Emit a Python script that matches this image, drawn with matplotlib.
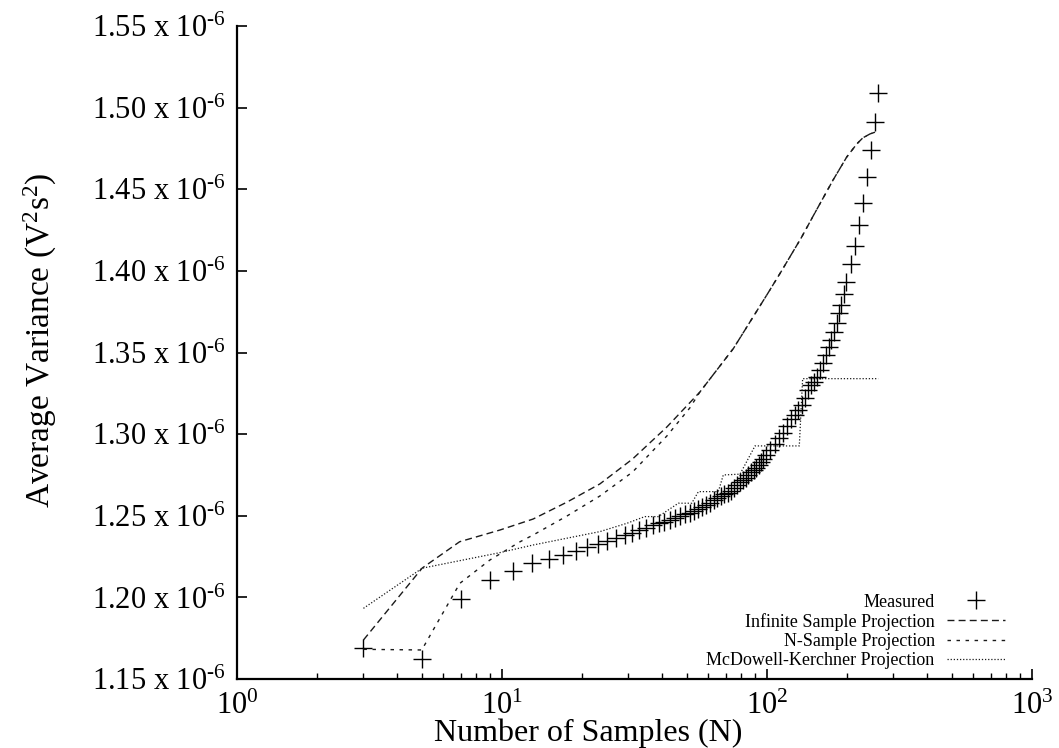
import matplotlib
matplotlib.use("Agg")
import matplotlib.pyplot as plt
from matplotlib.ticker import FixedLocator, NullFormatter, LogLocator

plt.rcParams['font.family'] = ['Liberation Serif', 'DejaVu Serif']
plt.rcParams['mathtext.fontset'] = 'custom'
plt.rcParams['mathtext.rm'] = 'Liberation Serif'
plt.rcParams['mathtext.it'] = 'Liberation Serif:italic'
plt.rcParams['mathtext.default'] = 'regular'

# ---- data (variance values in units of 1e-6 V^2 s^2) ----
measured_n = [3, 5, 7, 9, 11, 13, 15, 17, 19, 21, 23, 25, 27, 29, 31, 33, 35, 37, 39,
              41, 43, 45, 47, 49, 51, 53, 55, 57, 59, 61, 63, 65, 67, 69, 71, 73, 75,
              77, 79, 81, 83, 85, 87, 89, 91, 93, 95, 97, 99,
              103, 107, 111, 115, 119, 123, 127, 131, 135, 139, 143, 147, 151, 155,
              159, 163, 167, 171, 175, 179, 183, 187, 191, 195, 199,
              207, 215, 223, 231, 239, 247, 255, 263]
measured_v = [1.1688, 1.1623, 1.1990, 1.2107, 1.2164, 1.2208, 1.2234, 1.2262, 1.2287,
              1.2307, 1.2328, 1.2346, 1.2362, 1.2381, 1.2397, 1.2413, 1.2428, 1.2442,
              1.2454, 1.2464, 1.2477, 1.2488, 1.2498, 1.2509, 1.2519, 1.2529, 1.2540,
              1.2556, 1.2568, 1.2580, 1.2595, 1.2610, 1.2621, 1.2631, 1.2641, 1.2653,
              1.2672, 1.2690, 1.2708, 1.2720, 1.2733, 1.2750, 1.2767, 1.2780, 1.2792,
              1.2810, 1.2830, 1.2848, 1.2870,
              1.2905, 1.2942, 1.2975, 1.3010, 1.3050, 1.3095, 1.3120, 1.3145, 1.3180,
              1.3222, 1.3268, 1.3300, 1.3321, 1.3352, 1.3393, 1.3438, 1.3485, 1.3536,
              1.3577, 1.3628, 1.3679, 1.3740, 1.3790, 1.3860, 1.3934,
              1.4043, 1.4155, 1.4282, 1.4418, 1.4574, 1.4741, 1.4915, 1.5092]

infinite_n = [3, 5, 6.92, 9.83, 13.1, 17.6, 23.4, 31.1, 41.9, 55.8, 74.7, 100.4, 112.9,
              134.7, 149.2, 177.6, 200, 218.3, 230, 244.7, 257.9]
infinite_v = [1.1739, 1.2180, 1.2341, 1.2413, 1.2480, 1.2584, 1.2695, 1.2848, 1.3044,
              1.3258, 1.3525, 1.3859, 1.3994, 1.4203, 1.4335, 1.4557, 1.4698, 1.4778,
              1.4815, 1.4839, 1.4852]

nsample_n = [3, 4.98, 6.93, 9.0, 11.7, 13.1, 17.6, 23.4, 31.1, 41.9, 51.1, 55.8, 74.7,
             100.4, 112.9, 134.7, 149.2, 177.6, 200, 218.3, 230, 244.7, 257.9]
nsample_v = [1.1682, 1.1678, 1.2086, 1.2229, 1.2341, 1.2382, 1.2499, 1.2621, 1.2768,
             1.2989, 1.3160, 1.3258, 1.3525, 1.3859, 1.3994, 1.4203, 1.4335, 1.4557,
             1.4698, 1.4778, 1.4815, 1.4839, 1.4852]

mk_n = [3, 5, 9.8, 13.1, 17.5, 23.4, 29.6, 34.6, 38.9, 46.3, 52.0, 55.1, 65.5, 68.4,
        79.1, 90.1, 132.4, 136.3, 263]
mk_v = [1.1933, 1.2179, 1.2274, 1.2321, 1.2362, 1.2403, 1.2454, 1.2495, 1.2495,
        1.2577, 1.2577, 1.2648, 1.2648, 1.2750, 1.2755, 1.2928, 1.2928, 1.3340, 1.3340]

y_ticks = [1.15, 1.20, 1.25, 1.30, 1.35, 1.40, 1.45, 1.50, 1.55]
y_ticklabels = ['%.2f x 10$^{\u20106}$' % t for t in y_ticks]
x_ticks = [1, 10, 100, 1000]
x_ticklabels = ['10$^{0}$', '10$^{1}$', '10$^{2}$', '10$^{3}$']

# ---- figure ----
fig = plt.figure(figsize=(10.59, 7.48), dpi=100)
ax = fig.add_axes([0.2238, 0.0922, 0.7507, 0.873])

lc = '#1a1a1a'
ax.plot(measured_n, measured_v, linestyle='none', marker='+', markersize=13,
        markeredgewidth=1.0, color='black', label='Measured')
ax.plot(infinite_n, infinite_v, linestyle=(0, (5, 3)), linewidth=1.0, color=lc,
        label='Infinite Sample Projection')
ax.plot(nsample_n, nsample_v, linestyle=(0, (2.5, 4)), linewidth=1.0, color=lc,
        label='N-Sample Projection')
ax.plot(mk_n, mk_v, linestyle=(0, (1, 1.5)), linewidth=0.9, color=lc,
        label='McDowell-Kerchner Projection')

ax.set_xscale('log')
ax.set_xlim(1, 1000)
ax.set_ylim(1.15, 1.55)

ax.yaxis.set_major_locator(FixedLocator(y_ticks))
ax.set_yticklabels(y_ticklabels)
ax.xaxis.set_major_locator(FixedLocator(x_ticks))
ax.set_xticklabels(x_ticklabels)
ax.xaxis.set_minor_locator(LogLocator(base=10, subs=range(2, 10)))
ax.xaxis.set_minor_formatter(NullFormatter())

for s in ['top', 'right']:
    ax.spines[s].set_visible(False)
for s in ['left', 'bottom']:
    ax.spines[s].set_linewidth(1.6)

ax.tick_params(axis='both', which='major', direction='in', length=7, width=1.2,
               labelsize=22, pad=8, top=False, right=False)
ax.tick_params(axis='x', which='minor', direction='in', length=4, width=1.0, top=False)
ax.tick_params(axis='x', which='major', pad=9)

ax.set_xlabel('Number of Samples (N)', fontsize=23)
ax.xaxis.label.set_va('center')
ax.xaxis.set_label_coords(0.4415, -0.0835)
ax.set_ylabel('Average Variance (V$^{2}$s$^{2}$)', fontsize=24)
ax.yaxis.label.set_va('center')
ax.yaxis.label.set_ha('center')
ax.yaxis.set_label_coords(-0.2478, 0.519)

leg = ax.legend(loc='lower right', bbox_to_anchor=(0.982, -0.004), frameon=False,
                markerfirst=False, alignment='right', fontsize=13, handlelength=3.2,
                handletextpad=0.7, labelspacing=0.12, borderaxespad=0.3)

fig.savefig('out.png', dpi=100)
